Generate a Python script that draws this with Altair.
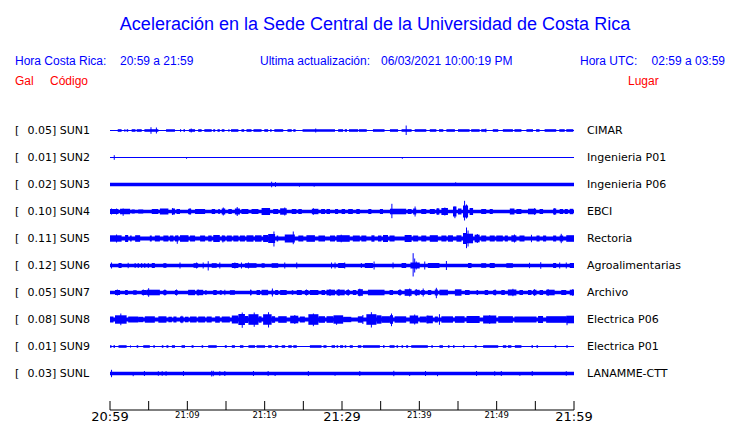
import altair as alt
import pandas as pd

BLUE = "#0000ff"
RED = "#ff0000"
SANS = "Liberation Sans"
MONO = "DejaVu Sans"

title_text = "Aceleración en la Sede Central de la Universidad de Costa Rica"
hora_cr_label = "Hora Costa Rica:"
hora_cr = "20:59 a 21:59"
update_label = "Ultima actualización:"
update_text = "06/03/2021 10:00:19 PM"
hora_utc_label = "Hora UTC:"
hora_utc = "02:59 a 03:59"

codes = ["SUN1", "SUN2", "SUN3", "SUN4", "SUN5", "SUN6", "SUN7", "SUN8", "SUN9", "SUNL"]
peaks = ["0.05", "0.01", "0.02", "0.10", "0.11", "0.12", "0.05", "0.08", "0.01", "0.03"]
places = ["CIMAR", "Ingenieria P01", "Ingenieria P06", "EBCI", "Rectoria",
          "Agroalimentarias", "Archivo", "Electrica P06", "Electrica P01", "LANAMME-CTT"]

# continuous noise level of each trace (half thickness, display amplitude units)
noise_floor = [0.5, 0.5, 1.8, 1.7, 1.9, 1.7, 1.7, 2.0, 0.5, 1.8]

# bursts: (start minute, end minute, half amplitude)
bursts_sun1 = [(1.0, 1.5, 1.3), (1.85, 2.0, 1.3), (2.15, 2.35, 1.3), (2.8, 3.3, 1.3), (3.45, 4.1, 1.3),
               (4.45, 6.25, 1.3), (7.25, 8.4, 1.3), (9.05, 9.2, 1.3), (9.5, 9.7, 1.3), (10.2, 11.0, 1.3),
               (11.4, 11.85, 1.3), (12.2, 13.15, 1.3), (13.35, 13.6, 1.3), (13.9, 14.2, 1.3), (14.45, 14.8, 1.3),
               (15.3, 15.45, 1.3), (15.65, 16.6, 1.3), (17.0, 17.35, 1.3), (17.65, 18.3, 1.3), (18.55, 19.6, 1.3),
               (19.95, 20.45, 1.3), (20.7, 20.9, 1.3), (21.25, 22.4, 1.3), (22.95, 23.5, 1.3), (23.7, 24.0, 1.3),
               (24.9, 29.1, 1.3), (29.5, 30.15, 1.3), (30.35, 30.65, 1.3), (30.9, 32.1, 1.3), (32.2, 33.2, 1.3),
               (34.0, 35.5, 1.3), (36.2, 37.25, 1.3), (37.7, 39.0, 1.3), (39.4, 40.9, 1.3), (41.35, 42.2, 1.3),
               (42.55, 43.1, 1.3), (43.5, 44.6, 1.3), (45.0, 46.5, 1.3), (46.7, 47.8, 1.3), (48.0, 48.65, 1.3),
               (49.5, 50.2, 1.3), (50.8, 52.1, 1.3), (52.3, 53.2, 1.3), (53.85, 54.7, 1.3), (55.1, 55.55, 1.3),
               (56.2, 57.7, 1.3), (58.1, 58.8, 1.3), (59.0, 59.9, 1.3)]
spikes_sun1 = [(5.3, 3.3, 3.3), (6.0, 3.0, 3.0), (10.5, 2.0, 2.0), (26.6, 2.0, 2.0), (38.3, 5.0, 4.5),
               (48.6, 1.8, 1.8)]

bursts_sun2 = []
spikes_sun2 = [(0.55, 2.3, 2.3), (9.9, 0.0, 1.3), (37.8, 0.0, 1.3)]

bursts_sun3 = []
spikes_sun3 = [(20.9, 2.8, 2.8), (21.4, 2.4, 2.4), (24.5, 0.0, 2.2), (26.4, 0.0, 2.2), (44.7, 2.2, 0.0)]

bursts_sun4 = [(0.0, 1.1, 2.5), (1.3, 2.6, 2.7), (2.8, 3.2, 2.0), (3.65, 4.3, 2.0), (5.4, 6.25, 2.5),
               (6.45, 7.55, 3.0), (8.0, 8.4, 3.0), (8.6, 9.05, 2.5), (10.1, 10.5, 2.7), (11.0, 12.3, 2.5),
               (13.15, 13.6, 2.5), (14.0, 14.2, 2.5), (14.45, 14.9, 3.0), (15.3, 15.75, 2.5), (16.15, 16.8, 3.0),
               (17.0, 17.9, 2.5), (18.3, 19.2, 2.5), (19.6, 20.7, 3.5), (21.1, 21.75, 2.5), (22.0, 22.85, 3.2),
               (23.5, 24.1, 2.5), (24.35, 24.8, 2.5), (26.1, 26.95, 2.7), (27.3, 27.8, 2.5), (28.0, 28.45, 2.5),
               (29.1, 29.5, 2.5), (29.95, 30.4, 2.5), (30.8, 31.4, 2.5), (31.85, 32.3, 2.5), (33.4, 33.8, 2.5),
               (34.9, 35.3, 2.5), (36.2, 38.3, 2.8), (38.5, 39.0, 2.5), (39.2, 39.6, 3.0), (40.25, 40.9, 2.5),
               (41.35, 42.0, 2.5), (42.2, 42.6, 3.0), (42.85, 43.7, 3.5), (44.35, 44.8, 5.0), (45.0, 45.45, 3.0),
               (45.65, 46.3, 6.0), (46.5, 46.95, 3.5), (48.0, 48.65, 2.5), (49.1, 49.5, 2.5), (51.7, 52.3, 3.0),
               (52.55, 53.2, 2.5), (54.05, 55.1, 2.8), (55.55, 56.0, 2.5), (57.3, 57.7, 3.0), (58.15, 58.6, 2.5),
               (58.8, 59.2, 2.5), (59.45, 59.9, 2.7)]
spikes_sun4 = [(0.2, 3.0, 3.0), (0.85, 3.0, 3.0), (1.7, 3.0, 4.3), (8.1, 3.5, 3.5), (10.35, 3.3, 3.3),
               (14.65, 4.0, 4.0), (16.45, 4.5, 4.5), (22.6, 4.0, 4.0), (26.3, 3.3, 3.3), (36.45, 7.7, 6.7),
               (39.45, 5.0, 5.0), (42.4, 3.5, 3.5), (43.3, 4.0, 4.0), (44.6, 5.0, 6.7), (45.85, 10.7, 9.0),
               (46.1, 7.0, 7.0), (54.9, 3.3, 3.3), (57.5, 3.3, 3.3)]

bursts_sun5 = [(0.0, 1.5, 3.2), (1.95, 2.35, 3.5), (2.6, 2.8, 3.0), (3.25, 3.9, 3.3), (5.15, 5.4, 3.0),
               (5.8, 6.45, 3.0), (6.9, 7.55, 3.0), (7.75, 8.2, 3.0), (8.4, 8.85, 3.0), (9.05, 10.15, 3.3),
               (10.35, 11.0, 3.0), (11.65, 12.3, 3.0), (12.7, 13.15, 3.0), (13.35, 14.2, 3.5), (14.45, 14.9, 3.0),
               (15.1, 15.75, 3.0), (15.95, 16.6, 3.0), (16.8, 17.45, 3.0), (17.65, 18.55, 3.2), (18.75, 19.6, 3.2),
               (19.8, 20.45, 3.5), (20.45, 21.35, 4.5), (21.55, 21.75, 3.0), (22.6, 23.9, 4.0), (24.35, 25.0, 3.0),
               (25.4, 26.5, 3.3), (26.95, 27.8, 3.0), (28.45, 29.1, 3.0), (29.3, 31.0, 3.3), (31.4, 32.3, 3.0),
               (32.5, 33.15, 3.0), (33.8, 34.2, 3.2), (34.65, 35.1, 3.0), (35.3, 35.95, 3.5), (36.15, 36.8, 3.0),
               (38.1, 39.0, 3.5), (39.2, 39.85, 3.0), (40.25, 40.9, 3.0), (41.35, 42.4, 3.3), (42.85, 43.5, 3.0),
               (43.7, 44.35, 3.2), (44.8, 45.45, 3.2), (45.65, 46.1, 5.5), (46.1, 46.95, 4.8), (47.15, 47.8, 3.8),
               (48.0, 48.65, 3.0), (49.1, 49.75, 3.0), (49.95, 50.8, 3.0), (51.05, 51.45, 3.0), (51.9, 52.55, 3.2),
               (52.95, 53.6, 3.0), (55.15, 55.55, 3.0), (56.0, 56.4, 3.0), (57.3, 57.7, 3.0), (58.15, 58.6, 3.0),
               (59.0, 60.0, 3.3)]
spikes_sun5 = [(0.85, 4.0, 4.0), (8.7, 3.0, 5.3), (14.6, 3.0, 4.0), (21.2, 7.0, 8.0), (23.7, 7.0, 5.7),
               (29.9, 3.8, 3.8), (46.1, 11.0, 9.7), (46.3, 8.0, 8.0), (47.5, 4.5, 4.5), (52.3, 4.0, 4.0),
               (54.5, 3.7, 3.7), (58.35, 4.7, 4.7)]

bursts_sun6 = [(1.1, 1.5, 2.5), (5.4, 5.8, 2.5), (6.9, 7.3, 2.3), (10.8, 11.4, 2.3), (13.15, 13.8, 2.3),
               (15.75, 16.6, 2.5), (17.45, 18.95, 2.3), (19.6, 20.0, 2.3), (20.9, 21.75, 2.3), (29.5, 30.4, 2.5),
               (32.95, 34.0, 2.5), (37.7, 38.3, 2.5), (38.85, 40.05, 3.0), (41.1, 42.6, 2.5), (46.3, 46.75, 2.5),
               (48.0, 48.65, 2.3), (49.1, 49.75, 2.5), (51.25, 52.1, 2.3), (57.3, 57.7, 2.5), (59.45, 60.0, 2.5)]
spikes_sun6 = [(0.2, 3.0, 3.0), (2.35, 2.7, 2.7), (3.25, 2.5, 2.5), (3.65, 2.5, 2.5), (4.1, 2.5, 2.5),
               (4.5, 2.5, 2.5), (4.95, 2.5, 2.5), (9.05, 3.0, 3.0), (11.2, 3.0, 3.0), (12.05, 3.0, 3.0),
               (12.7, 4.3, 5.0), (14.2, 3.0, 3.0), (16.15, 3.0, 3.0), (17.0, 3.0, 3.0), (17.9, 3.0, 3.0),
               (22.6, 3.0, 3.0), (24.15, 3.0, 3.0), (28.65, 3.0, 3.0), (29.1, 3.0, 3.0), (30.35, 3.0, 3.0),
               (32.5, 2.5, 2.5), (34.15, 4.0, 4.0), (36.6, 3.0, 3.0), (39.2, 12.3, 11.0), (39.4, 7.0, 7.0),
               (39.6, 4.0, 4.0), (40.7, 4.0, 4.0), (43.5, 4.5, 4.5), (54.25, 2.7, 2.7), (55.7, 3.3, 3.3),
               (58.15, 3.0, 3.0), (59.0, 3.0, 3.0)]

bursts_sun7 = [(0.65, 1.3, 2.5), (1.95, 2.3, 2.5), (3.0, 3.45, 2.3), (4.1, 4.75, 2.5), (4.75, 6.45, 2.8),
               (6.9, 7.3, 2.5), (8.4, 8.75, 2.5), (10.1, 11.0, 2.7), (11.2, 12.05, 2.7), (12.3, 12.5, 2.3),
               (13.35, 13.8, 2.5), (14.2, 14.45, 2.3), (15.5, 16.15, 2.3), (18.1, 18.3, 2.5), (18.95, 19.4, 2.5),
               (19.6, 20.45, 2.7), (20.9, 21.1, 2.5), (21.35, 21.75, 2.5), (22.0, 22.85, 2.5), (23.5, 23.7, 2.3),
               (24.15, 24.8, 2.5), (25.2, 25.65, 2.5), (25.85, 26.95, 2.5), (27.35, 27.8, 2.5), (28.0, 29.1, 2.8),
               (29.3, 30.35, 2.8), (30.55, 31.0, 2.5), (31.4, 31.85, 2.5), (32.05, 32.7, 3.3), (33.35, 35.5, 2.8),
               (36.15, 36.6, 2.5), (37.25, 37.7, 2.5), (38.1, 39.0, 3.3), (39.4, 40.05, 2.7), (40.25, 40.7, 2.5),
               (41.1, 41.55, 2.5), (42.0, 42.4, 3.0), (42.6, 43.7, 2.8), (44.6, 45.45, 3.2), (45.9, 46.5, 2.5),
               (47.4, 47.6, 2.5), (48.45, 48.9, 2.5), (49.55, 49.95, 2.5), (50.6, 51.05, 2.5), (51.45, 52.55, 3.0),
               (52.95, 53.4, 2.5), (54.05, 54.5, 2.5), (54.7, 55.15, 2.7), (55.55, 56.0, 2.5), (56.4, 57.5, 2.8),
               (58.35, 59.0, 2.5), (59.45, 60.0, 2.8)]
spikes_sun7 = [(0.95, 3.0, 3.0), (4.3, 3.0, 3.0), (5.0, 4.3, 4.3), (7.1, 3.0, 3.0), (8.6, 3.0, 3.0),
               (11.4, 3.0, 3.0), (14.85, 2.7, 2.7), (18.2, 3.0, 3.0), (21.0, 4.0, 4.0), (25.4, 3.0, 3.0),
               (28.45, 3.5, 3.5), (29.6, 3.5, 3.5), (30.8, 3.3, 3.3), (32.3, 3.8, 3.8), (37.5, 3.3, 3.3),
               (38.75, 4.0, 4.0), (39.6, 3.5, 3.5), (40.5, 4.0, 4.0), (42.2, 4.7, 5.7), (49.8, 3.0, 3.0),
               (52.1, 3.7, 3.7), (54.9, 3.3, 3.3), (56.65, 3.5, 3.5), (59.85, 3.5, 3.5)]

bursts_sun8 = [(0.0, 0.45, 3.0), (0.65, 2.15, 4.2), (2.35, 3.65, 3.0), (3.65, 4.3, 2.7), (4.5, 5.8, 3.2),
               (6.25, 7.3, 3.2), (7.55, 8.0, 2.8), (8.2, 8.6, 3.0), (9.05, 9.5, 3.0), (9.7, 10.15, 2.8),
               (10.35, 11.2, 3.0), (11.4, 12.3, 3.0), (12.5, 13.15, 3.0), (13.6, 14.2, 3.2), (14.45, 15.5, 3.0),
               (15.75, 16.6, 4.0), (16.6, 17.45, 5.5), (17.45, 17.9, 3.5), (17.9, 19.2, 5.3), (19.2, 19.6, 3.2),
               (19.8, 20.9, 5.3), (20.9, 21.35, 3.3), (21.75, 22.85, 3.3), (23.3, 24.35, 3.8), (24.55, 25.2, 3.0),
               (25.65, 26.95, 5.3), (26.95, 27.8, 3.3), (28.0, 28.9, 3.3), (28.9, 30.15, 4.2), (30.15, 31.2, 2.7),
               (32.05, 32.7, 3.2), (33.15, 34.45, 5.3), (34.45, 35.1, 4.2), (35.1, 36.2, 3.3), (36.2, 36.6, 4.3),
               (36.8, 38.3, 3.2), (38.75, 39.85, 4.0), (40.05, 40.9, 3.0), (40.9, 41.75, 3.8), (42.0, 42.4, 3.0),
               (42.85, 44.35, 3.2), (44.6, 45.85, 3.3), (46.1, 47.8, 3.5), (48.25, 49.95, 4.0), (50.2, 52.1, 3.3),
               (52.3, 55.15, 3.0), (55.35, 56.0, 3.5), (56.4, 59.0, 3.3), (59.0, 60.0, 3.8)]
spikes_sun8 = [(1.4, 6.0, 5.7), (9.3, 3.7, 3.7), (17.1, 7.0, 8.3), (18.65, 7.0, 7.3), (20.5, 7.3, 8.0),
               (23.9, 4.5, 4.5), (26.3, 6.0, 6.7), (29.3, 3.5, 5.3), (32.7, 4.5, 4.5), (33.8, 7.3, 8.0),
               (36.4, 6.0, 6.7), (39.4, 5.0, 5.0), (41.1, 4.0, 4.0), (42.6, 5.3, 5.3), (49.1, 4.3, 4.3),
               (59.1, 3.0, 5.7)]

bursts_sun9 = [(0.0, 0.2, 1.3), (0.45, 0.65, 1.3), (1.1, 2.15, 1.3), (2.6, 2.7, 1.3), (3.45, 3.65, 1.3),
               (4.3, 5.15, 1.3), (5.6, 5.8, 1.3), (6.7, 6.9, 1.3), (7.3, 7.55, 1.3), (8.0, 8.4, 1.3),
               (9.25, 9.7, 1.3), (10.55, 10.8, 1.3), (11.85, 12.05, 1.3), (12.7, 13.8, 1.3), (14.85, 15.1, 1.3),
               (15.75, 16.15, 1.3), (16.8, 17.25, 1.3), (17.9, 18.75, 1.3), (18.95, 20.05, 1.3), (20.45, 20.9, 1.3),
               (21.35, 21.75, 1.3), (22.2, 22.65, 1.3), (23.05, 23.5, 1.3), (23.7, 24.15, 1.3), (25.85, 27.35, 1.3),
               (27.6, 28.0, 1.3), (28.65, 29.1, 1.3), (29.3, 29.5, 1.3), (29.75, 30.15, 1.3), (30.35, 30.55, 1.3),
               (31.0, 31.4, 1.3), (32.05, 32.5, 1.3), (32.7, 34.9, 1.3), (35.3, 35.5, 1.3), (36.15, 36.8, 1.3),
               (37.05, 37.25, 1.3), (37.7, 37.9, 1.3), (38.3, 38.55, 1.3), (38.95, 41.1, 1.3), (41.55, 41.75, 1.3),
               (42.6, 43.05, 1.3), (43.7, 43.9, 1.3), (44.35, 44.55, 1.3), (45.65, 45.85, 1.3), (47.15, 47.4, 1.3),
               (48.25, 50.2, 1.3), (50.8, 51.25, 1.3), (51.45, 51.9, 1.3), (52.35, 53.2, 1.3), (54.5, 54.7, 1.3),
               (55.15, 55.35, 1.3), (57.5, 57.7, 1.3), (59.0, 59.2, 1.3)]
spikes_sun9 = []

bursts_sunl = []
spikes_sunl = [(0.2, 3.7, 3.7), (3.0, 0.0, 2.7), (4.45, 2.5, 2.5), (6.25, 2.3, 2.3), (6.75, 2.3, 2.3),
               (7.25, 2.3, 2.3), (9.5, 2.5, 2.5), (13.15, 2.7, 3.0), (13.35, 2.7, 2.7), (14.2, 2.3, 2.3),
               (14.85, 2.5, 2.5), (18.55, 2.5, 2.5), (20.45, 2.5, 2.5), (21.35, 0.0, 2.5), (25.65, 2.5, 2.5),
               (29.1, 0.0, 2.3), (32.3, 2.5, 2.5), (36.7, 2.7, 2.7), (38.75, 0.0, 2.5), (40.8, 2.5, 2.5),
               (42.35, 0.0, 2.7), (47.4, 2.5, 2.5), (49.75, 2.3, 2.3), (50.6, 2.5, 2.5), (53.0, 0.0, 2.3),
               (54.6, 2.5, 2.5), (59.0, 2.3, 2.3)]

all_bursts = [bursts_sun1, bursts_sun2, bursts_sun3, bursts_sun4, bursts_sun5,
              bursts_sun6, bursts_sun7, bursts_sun8, bursts_sun9, bursts_sunl]
all_spikes = [spikes_sun1, spikes_sun2, spikes_sun3, spikes_sun4, spikes_sun5,
              spikes_sun6, spikes_sun7, spikes_sun8, spikes_sun9, spikes_sunl]

tick_minutes = list(range(0, 61, 5))
major_minutes = [0, 30, 60]
major_labels = ["20:59", "21:29", "21:59"]
minor_minutes = [10, 20, 40, 50]
minor_labels = ["21:09", "21:19", "21:39", "21:49"]

# ---- tables ----
GAP = 27.0  # amplitude units between trace baselines
base_rows, burst_rows, spike_rows = [], [], []
for i, code in enumerate(codes):
    c = i * GAP
    base_rows.append({"code": code, "t0": 0.0, "t1": 60.0,
                      "lo": c - noise_floor[i], "hi": c + noise_floor[i]})
    for (a, b, amp) in all_bursts[i]:
        burst_rows.append({"code": code, "t0": a, "t1": b, "lo": c - amp, "hi": c + amp})
    for (t, up, dn) in all_spikes[i]:
        spike_rows.append({"code": code, "t": t, "lo": c - up, "hi": c + dn})
base_df = pd.DataFrame(base_rows)
burst_df = pd.DataFrame(burst_rows)
spike_df = pd.DataFrame(spike_rows)

label_df = pd.DataFrame({
    "pos": [i * GAP for i in range(len(codes))],
    "left": [f"{p}] {c}" for p, c in zip(peaks, codes)],
    "bracket": ["["] * len(codes),
    "place": places,
})

X = alt.Scale(domain=[0, 60], range=[102, 566], nice=False, zero=False)
Y = alt.Scale(domain=[0, 9 * GAP], range=[122.5, 365.5], nice=False, zero=False)

base = alt.Chart(base_df).mark_rect(color=BLUE).encode(
    x=alt.X("t0:Q", scale=X, axis=None), x2="t1:Q",
    y=alt.Y("lo:Q", scale=Y, axis=None), y2="hi:Q")
bursts = alt.Chart(burst_df).mark_rect(color=BLUE).encode(
    x=alt.X("t0:Q", scale=X, axis=None), x2="t1:Q",
    y=alt.Y("lo:Q", scale=Y, axis=None), y2="hi:Q")
spikes = alt.Chart(spike_df).mark_rule(color=BLUE, strokeWidth=1).encode(
    x=alt.X("t:Q", scale=X, axis=None),
    y=alt.Y("lo:Q", scale=Y, axis=None), y2="hi:Q")

brk = alt.Chart(label_df).mark_text(font=MONO, fontSize=11, align="left", baseline="middle", color="black").encode(
    x=alt.value(7), y=alt.Y("pos:Q", scale=Y, axis=None), text="bracket:N")
left_lab = alt.Chart(label_df).mark_text(font=MONO, fontSize=11, align="left", baseline="middle", color="black").encode(
    x=alt.value(19.5), y=alt.Y("pos:Q", scale=Y, axis=None), text="left:N")
right_lab = alt.Chart(label_df).mark_text(font=MONO, fontSize=11, align="left", baseline="middle", color="black").encode(
    x=alt.value(579), y=alt.Y("pos:Q", scale=Y, axis=None), text="place:N")

# time axis drawn with the x scale
tick_df = pd.DataFrame({"t": tick_minutes})
ticks = alt.Chart(tick_df).mark_rule(color="black", strokeWidth=1).encode(
    x=alt.X("t:Q", scale=X, axis=None), y=alt.value(393), y2=alt.value(402))
axis_df = pd.DataFrame({"t0": [0], "t1": [60]})
axis_line = alt.Chart(axis_df).mark_rule(color="black", strokeWidth=1).encode(
    x=alt.X("t0:Q", scale=X, axis=None), x2="t1:Q", y=alt.value(402))
major_df = pd.DataFrame({"t": major_minutes, "lab": major_labels})
major = alt.Chart(major_df).mark_text(font=MONO, fontSize=13, align="center", baseline="alphabetic", color="black").encode(
    x=alt.X("t:Q", scale=X, axis=None), y=alt.value(413), text="lab:N")
minor_df = pd.DataFrame({"t": minor_minutes, "lab": minor_labels})
minor = alt.Chart(minor_df).mark_text(font=MONO, fontSize=8.5, align="center", baseline="alphabetic", color="black").encode(
    x=alt.X("t:Q", scale=X, axis=None), y=alt.value(410), text="lab:N")


def text_layer(s, x, y, size, color, align="left", font=SANS):
    return alt.Chart(pd.DataFrame({"s": [s]})).mark_text(
        font=font, fontSize=size, align=align, baseline="alphabetic", color=color
    ).encode(x=alt.value(x), y=alt.value(y), text="s:N")


header = [
    text_layer(title_text, 367, 22, 18, BLUE, align="center"),
    text_layer(hora_cr_label, 7, 57, 12, BLUE),
    text_layer(hora_cr, 112, 57, 12, BLUE),
    text_layer(update_label, 252, 57, 12, BLUE),
    text_layer(update_text, 373, 57, 12, BLUE),
    text_layer(hora_utc_label, 572, 57, 12, BLUE),
    text_layer(hora_utc, 717, 57, 12, BLUE, align="right"),
    text_layer("Gal", 7, 77, 12, RED),
    text_layer("Código", 42, 77, 12, RED),
    text_layer("Lugar", 620, 77, 12, RED),
]

chart = alt.layer(
    base, bursts, spikes, brk, left_lab, right_lab, ticks, axis_line, major, minor, *header
).properties(
    width=724, height=415, padding=0,
    autosize=alt.AutoSizeParams(type="none"),
    background="white",
).configure_view(stroke=None)

chart.save("out.html", embed_options={"renderer": "svg", "actions": False})
